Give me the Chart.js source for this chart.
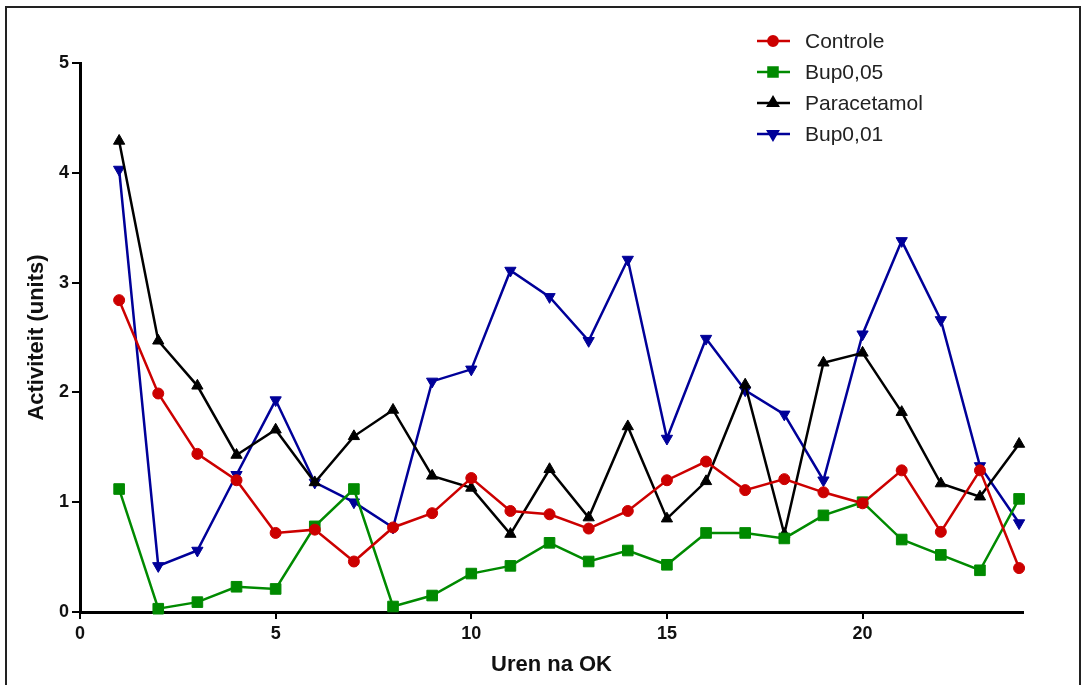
<!DOCTYPE html>
<html>
<head>
<meta charset="utf-8">
<script src="https://cdn.jsdelivr.net/npm/chart.js@4"></script>
<style>
  html, body { margin: 0; padding: 0; background: #fff; }
  #frame { position: absolute; left: 5px; top: 6px; width: 1076px; height: 700px; border: 2px solid #222; box-sizing: border-box; }
  #wrap { position: absolute; left: 0; top: 0; width: 1082px; height: 685px; }
</style>
</head>
<body>
<div id="frame"></div>
<div id="wrap"><canvas id="chart"></canvas></div>
<script>
const hours = [1, 2, 3, 4, 5, 6, 7, 8, 9, 10, 11, 12, 13, 14, 15, 16, 17, 18, 19, 20, 21, 22, 23, 24];
const controle = [2.84, 1.99, 1.44, 1.20, 0.72, 0.75, 0.46, 0.77, 0.90, 1.22, 0.92, 0.89, 0.76, 0.92, 1.20, 1.37, 1.11, 1.21, 1.09, 0.99, 1.29, 0.73, 1.29, 0.40];
const bup005 = [1.12, 0.03, 0.09, 0.23, 0.21, 0.78, 1.12, 0.05, 0.15, 0.35, 0.42, 0.63, 0.46, 0.56, 0.43, 0.72, 0.72, 0.67, 0.88, 1.00, 0.66, 0.52, 0.38, 1.03];
const paracetamol = [4.29, 2.47, 2.06, 1.43, 1.66, 1.18, 1.60, 1.84, 1.24, 1.13, 0.71, 1.30, 0.86, 1.69, 0.85, 1.19, 2.07, 0.71, 2.27, 2.36, 1.82, 1.17, 1.05, 1.53];
const bup001 = [4.03, 0.42, 0.56, 1.25, 1.93, 1.18, 1.00, 0.77, 2.10, 2.21, 3.11, 2.87, 2.47, 3.21, 1.58, 2.49, 2.02, 1.80, 1.20, 2.53, 3.38, 2.66, 1.33, 0.81];
const xTicks = [0, 5, 10, 15, 20];
const yTicks = [0, 1, 2, 3, 4, 5];

const toPoints = vals => vals.map((v, i) => ({ x: hours[i], y: v }));

function series(label, vals, color, style, rotation, radius) {
  return {
    label: label,
    data: toPoints(vals),
    borderColor: color,
    backgroundColor: color,
    borderWidth: 2.5,
    pointStyle: style,
    rotation: rotation,
    pointRadius: radius,
    pointBorderWidth: 1,
    tension: 0,
    clip: false,
  };
}

// legend drawn inside the plot with line + marker, like the original
const lineLegend = {
  id: "lineLegend",
  afterDraw(chart) {
    const ctx = chart.ctx;
    ctx.save();
    chart.data.datasets.forEach((ds, i) => {
      const y = 41 + i * 31;
      ctx.strokeStyle = ds.borderColor;
      ctx.lineWidth = 2.5;
      ctx.beginPath();
      ctx.moveTo(757, y);
      ctx.lineTo(790, y);
      ctx.stroke();
      ctx.fillStyle = ds.borderColor;
      Chart.helpers.drawPoint(ctx, { pointStyle: ds.pointStyle, rotation: ds.rotation, radius: ds.pointRadius * 0.85, borderWidth: 1 }, 773, y);
      ctx.fill();
      ctx.fillStyle = "#222";
      ctx.font = "21px 'Liberation Sans', Arial, sans-serif";
      ctx.textBaseline = "middle";
      ctx.fillText(ds.label, 805, y + 1);
    });
    ctx.restore();
  },
};

const tickFont = { family: "'Liberation Sans', Arial, sans-serif", size: 18, weight: "bold" };
const titleFont = { family: "'Liberation Sans', Arial, sans-serif", size: 22, weight: "bold" };

new Chart(document.getElementById("chart"), {
  type: "line",
  data: {
    datasets: [
      series("Controle", controle, "#cc0000", "circle", 0, 5.5),
      series("Bup0,05", bup005, "#008a00", "rect", 0, 7.5),
      series("Paracetamol", paracetamol, "#000000", "triangle", 0, 6.5),
      series("Bup0,01", bup001, "#000099", "triangle", 180, 6.5),
    ],
  },
  options: {
    responsive: true,
    maintainAspectRatio: false,
    animation: false,
    layout: { padding: { top: 63, right: 59, left: 24, bottom: 0 } },
    plugins: { legend: { display: false }, tooltip: { enabled: false } },
    scales: {
      x: {
        type: "linear",
        min: 0,
        max: 24.1,
        afterBuildTicks: s => { s.ticks = xTicks.map(v => ({ value: v })); },
        afterFit: s => { s.height = 73; },
        border: { display: true, color: "#000", width: 3 },
        grid: { drawOnChartArea: false, drawTicks: true, tickLength: 7, color: "#000", lineWidth: 2 },
        ticks: { color: "#111", font: tickFont, padding: 4, maxRotation: 0 },
        title: { display: true, text: "Uren na OK", color: "#111", font: titleFont, padding: { top: 0, bottom: 7 } },
      },
      y: {
        min: 0,
        max: 5,
        afterBuildTicks: s => { s.ticks = yTicks.map(v => ({ value: v })); },
        afterFit: s => { s.width = 56; },
        border: { display: true, color: "#000", width: 3 },
        grid: { drawOnChartArea: false, drawTicks: true, tickLength: 8, color: "#000", lineWidth: 2 },
        ticks: { color: "#111", font: tickFont, padding: 3 },
        title: { display: true, text: "Activiteit (units)", color: "#111", font: titleFont, padding: { top: 0, bottom: 4 } },
      },
    },
  },
  plugins: [lineLegend],
});
</script>
</body>
</html>
